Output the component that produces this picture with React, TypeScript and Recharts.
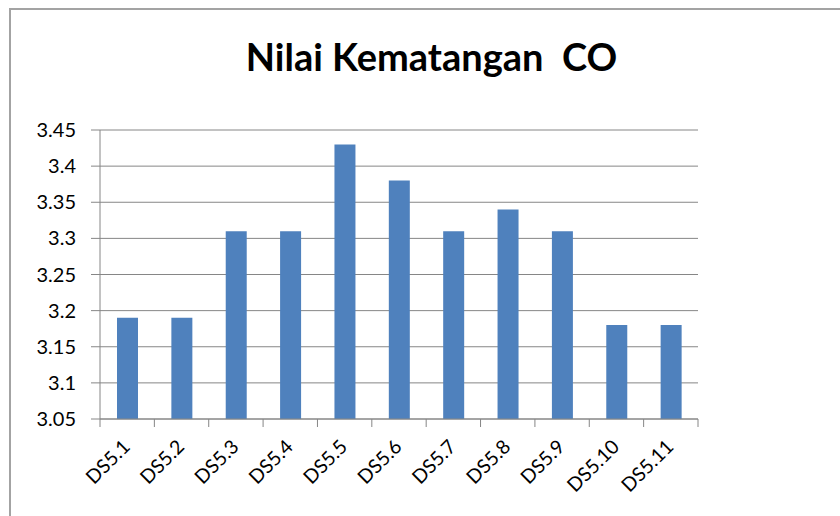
import React from 'react';
import { BarChart, Bar, XAxis, YAxis, CartesianGrid } from 'recharts';

// values
const categories = ['DS5.1', 'DS5.2', 'DS5.3', 'DS5.4', 'DS5.5', 'DS5.6', 'DS5.7', 'DS5.8', 'DS5.9', 'DS5.10', 'DS5.11'];
const values = [3.19, 3.19, 3.31, 3.31, 3.43, 3.38, 3.31, 3.34, 3.31, 3.18, 3.18];
const yTicks = [3.05, 3.1, 3.15, 3.2, 3.25, 3.3, 3.35, 3.4, 3.45];

const data = categories.map((name, i) => ({ name, value: values[i] }));

const FONT = 'Lato, "Open Sans", sans-serif';
const GREY = '#868686';

// Excel puts the x tick marks between categories, so the tick draws its mark at
// the band edge (payload.offset is half the band) and a rotated label.
// y comes in already tickSize (8) below the axis line.
const CategoryTick = (props: any) => {
  const { x, y, payload, index, visibleTicksCount } = props;
  const half = typeof payload.offset === 'number' ? payload.offset : 0;
  const ax = x + 4;
  const ay = y + 21;
  const isLast = index === visibleTicksCount - 1;
  return (
    <g>
      {half > 0 && <line x1={x - half} x2={x - half} y1={y - 8} y2={y} stroke={GREY} />}
      {half > 0 && isLast && <line x1={x + half} x2={x + half} y1={y - 8} y2={y} stroke={GREY} />}
      <text
        x={ax}
        y={ay}
        transform={`rotate(-45 ${ax} ${ay})`}
        textAnchor="end"
        fill="#000"
        fontSize={19.5}
        fontFamily={FONT}
      >
        {payload.value}
      </text>
    </g>
  );
};

const App: React.FC = () => {
  return (
    <div
      style={{
        position: 'absolute',
        left: 0,
        top: 0,
        width: 840,
        height: 516,
        overflow: 'hidden',
        background: '#fff',
        fontFamily: FONT,
      }}
    >
      {/* frame of the chart box, only its top and left edges are in view */}
      <div
        style={{
          position: 'absolute',
          left: 9,
          top: 8,
          width: 1000,
          height: 1000,
          border: '2px solid #a3a3a3',
        }}
      />
      <svg width={840} height={516} style={{ position: 'absolute', left: 0, top: 0 }}>
        <text
          x={431.5}
          y={71}
          textAnchor="middle"
          fontSize={38}
          fontWeight="bold"
          fontFamily={FONT}
          fill="#000"
          style={{ whiteSpace: 'pre' }}
        >
          {'Nilai Kematangan  CO'}
        </text>
      </svg>
      <div style={{ position: 'absolute', left: 0, top: 0 }}>
        <BarChart width={840} height={516} data={data} margin={{ top: 130, right: 142, bottom: 0, left: 0 }}>
          <CartesianGrid vertical={false} stroke={GREY} strokeWidth={1} />
          <XAxis
            dataKey="name"
            height={97}
            axisLine={{ stroke: GREY }}
            tickLine={false}
            tickSize={8}
            tickMargin={0}
            interval={0}
            tick={<CategoryTick />}
          />
          <YAxis
            width={100}
            domain={[3.05, 3.45]}
            ticks={yTicks}
            interval={0}
            tickSize={9}
            tickMargin={15}
            axisLine={{ stroke: GREY }}
            tickLine={{ stroke: GREY }}
            tick={{ fill: '#000', fontSize: 20, fontFamily: FONT }}
          />
          <Bar dataKey="value" fill="#4F81BD" barSize={21} isAnimationActive={false} />
        </BarChart>
      </div>
    </div>
  );
};

export default App;
